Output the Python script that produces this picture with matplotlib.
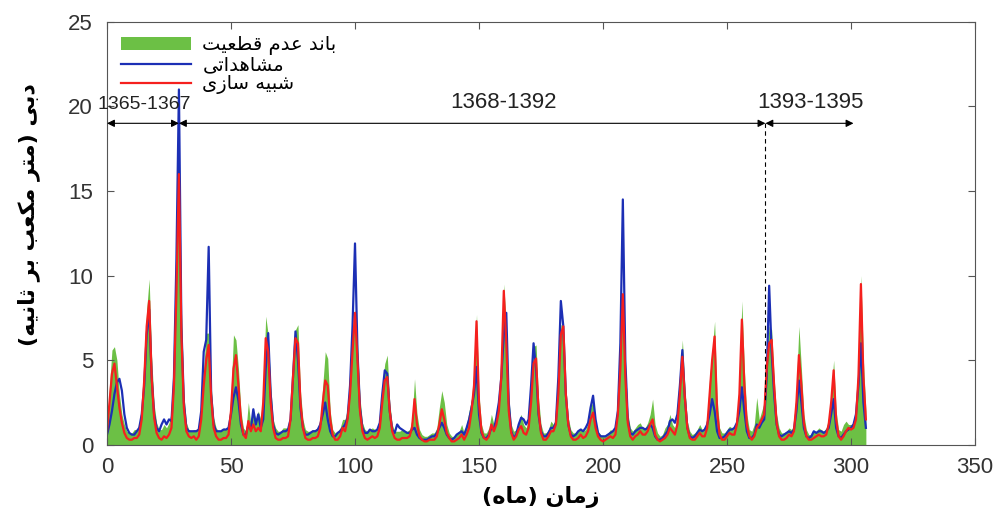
import numpy as np
import matplotlib
matplotlib.use("Agg")
import matplotlib.pyplot as plt

plt.rcParams['font.family'] = ['Liberation Sans', 'DejaVu Sans']

# دبی ماهانه، یک سطر برای هر سال (۱۲ ماه)
observed = [
    0.6, 1.2, 2.0, 3.0, 3.7, 3.9, 3.2, 1.8, 1.0, 0.7, 0.6, 0.6,
    0.8, 1.0, 1.8, 3.5, 6.5, 8.0, 4.0, 1.8, 1.0, 0.8, 1.2, 1.5,
    1.2, 1.5, 1.4, 4.0, 11.0, 21.0, 7.0, 2.5, 1.0, 0.8, 0.8, 0.8,
    0.8, 0.9, 2.0, 5.5, 6.2, 11.7, 3.0, 1.2, 0.8, 0.8, 0.8, 0.9,
    0.9, 1.0, 1.8, 2.8, 3.4, 2.6, 1.2, 0.6, 0.6, 1.2, 0.9, 2.1,
    1.2, 1.8, 1.0, 1.5, 4.5, 6.6, 3.0, 1.2, 0.7, 0.6, 0.7, 0.8,
    0.8, 0.9, 1.5, 4.0, 6.7, 5.0, 2.2, 1.0, 0.6, 0.6, 0.7, 0.8,
    0.8, 0.9, 1.2, 1.8, 2.5, 1.5, 0.8, 0.5, 0.5, 0.7, 0.8, 1.0,
    1.2, 1.6, 3.5, 7.0, 11.9, 5.5, 2.2, 1.0, 0.7, 0.7, 0.9, 0.8,
    0.8, 0.9, 1.3, 3.0, 4.4, 4.2, 2.0, 0.9, 0.7, 1.2, 1.0, 0.9,
    0.8, 0.7, 0.7, 0.9, 1.0, 0.6, 0.4, 0.3, 0.3, 0.3, 0.4, 0.5,
    0.5, 0.7, 1.0, 1.3, 1.0, 0.6, 0.4, 0.3, 0.4, 0.6, 0.7, 0.8,
    0.6, 1.0, 1.5, 2.2, 3.0, 4.6, 1.8, 0.7, 0.4, 0.4, 0.6, 1.0,
    0.9, 1.6, 2.5, 4.0, 6.5, 7.8, 2.5, 0.8, 0.4, 0.6, 1.2, 1.6,
    1.5, 1.2, 1.5, 3.5, 6.0, 4.5, 1.8, 0.8, 0.5, 0.5, 0.7, 1.0,
    1.0, 1.3, 4.0, 8.5, 7.0, 3.0, 1.2, 0.6, 0.5, 0.6, 0.8, 0.9,
    0.8, 1.0, 1.3, 2.2, 2.9, 1.5, 0.7, 0.5, 0.5, 0.5, 0.6, 0.7,
    0.8, 1.0, 2.0, 6.0, 14.5, 5.0, 1.5, 0.7, 0.6, 0.8, 0.9, 1.0,
    1.0, 0.9, 1.0, 1.2, 1.0, 0.5, 0.3, 0.3, 0.4, 0.6, 0.8, 1.4,
    1.5, 1.3, 1.8, 3.5, 5.6, 2.8, 1.0, 0.5, 0.4, 0.5, 0.7, 0.9,
    0.8, 0.9, 1.2, 1.8, 2.7, 2.0, 0.8, 0.4, 0.4, 0.5, 0.7, 0.9,
    0.9, 1.0, 1.3, 2.0, 3.4, 2.0, 0.8, 0.4, 0.4, 0.6, 1.2, 1.0,
    1.3, 1.5, 4.0, 9.4, 5.5, 3.0, 1.2, 0.6, 0.5, 0.6, 0.7, 0.8,
    0.7, 0.9, 2.0, 3.8, 2.5, 1.0, 0.5, 0.4, 0.5, 0.8, 0.7, 0.8,
    0.8, 0.7, 0.8, 1.0, 1.8, 2.7, 1.0, 0.5, 0.4, 0.6, 0.8, 0.9,
    1.0, 1.2, 1.8, 3.5, 6.0, 2.5, 1.0,
]

simulated = [
    0.8, 2.5, 4.2, 4.8, 3.5, 2.2, 1.3, 0.7, 0.4, 0.3, 0.3, 0.4,
    0.4, 0.6, 1.5, 3.8, 7.0, 8.5, 4.0, 1.6, 0.7, 0.4, 0.3, 0.5,
    0.4, 0.6, 1.0, 3.5, 9.0, 16.0, 6.5, 2.2, 0.8, 0.5, 0.4, 0.5,
    0.3, 0.5, 1.5, 3.5, 5.0, 5.9, 2.8, 1.0, 0.5, 0.3, 0.3, 0.4,
    0.4, 0.6, 2.0, 4.5, 5.3, 3.5, 1.5, 0.6, 0.4, 1.4, 0.8, 1.2,
    0.8, 1.0, 0.8, 2.5, 6.3, 5.5, 2.5, 1.0, 0.4, 0.3, 0.3, 0.4,
    0.4, 0.5, 1.5, 4.0, 6.3, 6.0, 2.5, 1.0, 0.4, 0.3, 0.3, 0.4,
    0.4, 0.5, 1.0, 2.5, 3.8, 3.5, 1.5, 0.6, 0.3, 0.3, 0.5, 1.0,
    0.8, 1.5, 3.0, 5.5, 7.8, 5.0, 2.0, 0.8, 0.4, 0.3, 0.4, 0.5,
    0.4, 0.5, 1.0, 2.5, 3.8, 4.0, 2.0, 0.8, 0.4, 0.3, 0.3, 0.4,
    0.4, 0.4, 0.5, 1.0, 2.7, 1.2, 0.5, 0.3, 0.2, 0.2, 0.3, 0.3,
    0.3, 0.5, 1.2, 2.1, 1.5, 0.7, 0.4, 0.2, 0.2, 0.3, 0.4, 0.6,
    0.3, 0.6, 1.0, 2.0, 3.5, 7.3, 2.5, 0.8, 0.4, 0.3, 0.5, 1.2,
    0.8, 1.2, 2.0, 4.0, 9.1, 6.0, 2.0, 0.7, 0.3, 0.5, 0.9, 1.1,
    0.7, 0.6, 1.0, 2.5, 4.8, 5.1, 2.0, 0.7, 0.3, 0.3, 0.5, 0.8,
    0.8, 1.2, 3.0, 6.5, 7.0, 3.0, 1.2, 0.5, 0.3, 0.3, 0.4, 0.6,
    0.4, 0.5, 0.8, 1.5, 1.9, 1.0, 0.5, 0.3, 0.2, 0.3, 0.4, 0.5,
    0.4, 0.6, 1.8, 4.5, 8.9, 4.0, 1.3, 0.5, 0.3, 0.5, 0.6, 0.8,
    0.6, 0.6, 0.8, 1.2, 1.5, 0.6, 0.3, 0.2, 0.3, 0.4, 0.6, 1.0,
    0.8, 0.6, 1.2, 3.0, 5.2, 2.8, 1.0, 0.4, 0.3, 0.3, 0.5, 0.7,
    0.5, 0.5, 1.0, 3.0, 5.0, 6.4, 2.0, 0.6, 0.3, 0.3, 0.5, 0.7,
    0.6, 0.6, 1.2, 3.0, 7.4, 3.5, 1.2, 0.5, 0.3, 0.5, 1.0, 1.2,
    1.5, 1.8, 4.5, 6.0, 6.2, 3.5, 1.3, 0.5, 0.3, 0.3, 0.4, 0.6,
    0.5, 0.8, 2.5, 5.3, 3.5, 1.3, 0.5, 0.3, 0.3, 0.4, 0.5, 0.6,
    0.5, 0.5, 0.6, 1.2, 2.5, 4.4, 1.5, 0.5, 0.3, 0.5, 0.8, 1.0,
    0.9, 1.0, 1.5, 4.0, 9.5, 4.0, 1.5,
]

band_upper = [
    1.0, 3.5, 5.6, 5.8, 5.0, 3.0, 1.8, 1.2, 0.8, 0.7, 0.7, 0.9,
    0.9, 1.2, 2.4, 4.8, 8.0, 9.8, 5.2, 2.4, 1.3, 0.9, 0.9, 1.2,
    1.0, 1.3, 2.0, 5.0, 12.0, 17.0, 8.0, 3.0, 1.3, 0.9, 0.8, 0.9,
    0.9, 1.0, 2.5, 4.5, 6.6, 6.6, 3.5, 1.6, 1.0, 0.8, 0.8, 1.0,
    0.9, 1.2, 3.0, 6.5, 6.2, 4.5, 2.0, 1.0, 0.8, 2.5, 1.2, 2.0,
    1.5, 2.0, 1.5, 3.5, 7.6, 6.5, 3.5, 1.5, 1.0, 0.8, 0.8, 1.0,
    1.0, 1.0, 2.0, 4.5, 6.8, 7.1, 3.2, 1.5, 0.9, 0.8, 0.8, 0.9,
    0.9, 1.0, 1.5, 3.5, 5.5, 5.1, 2.0, 0.9, 0.7, 0.8, 1.0, 1.5,
    1.5, 2.2, 4.0, 6.5, 8.0, 6.0, 2.8, 1.3, 0.9, 0.8, 0.9, 1.0,
    0.9, 0.9, 1.5, 3.5, 4.8, 5.3, 2.5, 1.2, 0.8, 0.8, 0.8, 0.9,
    0.8, 0.8, 0.9, 1.5, 3.9, 1.8, 0.9, 0.6, 0.5, 0.5, 0.6, 0.7,
    0.7, 1.0, 2.2, 3.2, 2.5, 1.2, 0.7, 0.5, 0.5, 0.7, 0.8, 1.2,
    0.7, 1.2, 2.0, 2.7, 4.5, 7.7, 3.0, 1.2, 0.7, 0.7, 1.0, 1.8,
    1.2, 1.6, 2.8, 5.0, 9.5, 7.0, 2.8, 1.2, 0.8, 0.9, 1.4, 1.8,
    1.2, 1.0, 1.5, 3.5, 5.8, 5.9, 2.8, 1.2, 0.7, 0.7, 0.9, 1.4,
    1.2, 1.6, 3.5, 7.1, 7.0, 3.5, 1.6, 0.9, 0.7, 0.7, 0.8, 1.0,
    0.8, 0.9, 1.3, 2.2, 2.6, 1.4, 0.8, 0.6, 0.5, 0.6, 0.7, 0.9,
    0.8, 1.0, 2.3, 5.5, 9.0, 4.8, 1.9, 1.0, 0.8, 1.0, 1.2, 1.3,
    1.0, 1.0, 1.3, 1.8, 2.7, 1.2, 0.7, 0.5, 0.6, 1.0, 1.2, 1.8,
    1.2, 1.0, 1.8, 3.8, 6.2, 3.5, 1.4, 0.8, 0.6, 0.7, 0.9, 1.2,
    0.9, 0.9, 1.6, 4.0, 5.5, 7.3, 2.8, 1.0, 0.7, 0.7, 0.9, 1.1,
    1.0, 1.0, 1.6, 3.8, 8.5, 4.5, 1.8, 0.9, 0.8, 1.2, 2.8, 1.5,
    2.0, 2.5, 5.5, 7.0, 6.8, 4.0, 1.8, 1.0, 0.7, 0.7, 0.8, 1.0,
    0.9, 1.2, 3.5, 7.0, 4.5, 1.8, 0.9, 0.6, 0.6, 0.8, 0.8, 1.0,
    0.9, 0.8, 1.0, 1.6, 3.0, 5.0, 2.0, 0.9, 0.8, 1.2, 1.4, 1.2,
    1.2, 1.3, 2.0, 5.0, 10.0, 5.0, 2.0,
]

# دوره ها: (شروع، پایان، محل برچسب، برچسب)
periods = [(0, 29, 15, '1365-1367'), (29, 265.5, 160, '1368-1392'),
           (265.5, 301, 283.5, '1393-1395')]
period_split = 265.5

labels = ['باند عدم قطعیت', 'مشاهداتی', 'شبیه سازی']
xlabel = 'زمان (ماه)'
ylabel = 'دبی (متر مکعب بر ثانیه)'

# matplotlib حروف فارسی را به هم نمی چسباند، پس شکل های متصل را دستی می سازیم
FORMS = {
    'ا': ('\ufe8d', '\ufe8e', None, None),
    'ب': ('\ufe8f', '\ufe90', '\ufe91', '\ufe92'),
    'ت': ('\ufe95', '\ufe96', '\ufe97', '\ufe98'),
    'ث': ('\ufe99', '\ufe9a', '\ufe9b', '\ufe9c'),
    'د': ('\ufea9', '\ufeaa', None, None),
    'ر': ('\ufead', '\ufeae', None, None),
    'ز': ('\ufeaf', '\ufeb0', None, None),
    'س': ('\ufeb1', '\ufeb2', '\ufeb3', '\ufeb4'),
    'ش': ('\ufeb5', '\ufeb6', '\ufeb7', '\ufeb8'),
    'ط': ('\ufec1', '\ufec2', '\ufec3', '\ufec4'),
    'ع': ('\ufec9', '\ufeca', '\ufecb', '\ufecc'),
    'ق': ('\ufed5', '\ufed6', '\ufed7', '\ufed8'),
    'ک': ('\ufb8e', '\ufb8f', '\ufb90', '\ufb91'),
    'م': ('\ufee1', '\ufee2', '\ufee3', '\ufee4'),
    'ن': ('\ufee5', '\ufee6', '\ufee7', '\ufee8'),
    'ه': ('\ufee9', '\ufeea', '\ufeeb', '\ufeec'),
    'ی': ('\ufbfc', '\ufbfd', '\ufbfe', '\ufbff'),
}


def fa(s):
    out = []
    for i, ch in enumerate(s):
        if ch not in FORMS:
            out.append(ch)
            continue
        prev = s[i - 1] if i > 0 else ''
        nxt = s[i + 1] if i + 1 < len(s) else ''
        jp = prev in FORMS and FORMS[prev][2] is not None
        jn = FORMS[ch][2] is not None and nxt in FORMS
        iso, fin, ini, med = FORMS[ch]
        out.append(med if jp and jn else fin if jp else ini if jn else iso)
    return ''.join(reversed(out)).translate(str.maketrans('()', ')('))


FA = ['DejaVu Sans']

months = np.arange(len(observed))

fig = plt.figure(figsize=(10, 5.19), dpi=100)
ax = fig.add_axes([0.107, 0.143, 0.868, 0.815])

ax.fill_between(months, 0, band_upper, color='#6cc045', lw=0, label=fa(labels[0]))
ax.plot(months, observed, color='#1c2fb5', lw=1.6, label=fa(labels[1]))
ax.plot(months, simulated, color='#f5201e', lw=1.6, label=fa(labels[2]))

# فلش های دوره ها
for x0, x1, xt, txt in periods:
    ax.annotate('', xy=(x1, 19), xytext=(x0, 19),
                arrowprops=dict(arrowstyle='<|-|>', color='k', lw=0.8,
                                shrinkA=0, shrinkB=0, mutation_scale=11))
    fs = 14 if txt == '1365-1367' else 16
    ax.text(xt, 19.6, txt, ha='center', va='bottom', fontsize=fs, color='#222222')
ax.plot([period_split, period_split], [19, 2.5], 'k--', lw=0.8, dashes=(4, 3))

ax.set_xlim(0, 350)
ax.set_ylim(0, 25)
ax.set_xticks(np.arange(0, 351, 50))
ax.set_yticks(np.arange(0, 26, 5))
ax.tick_params(direction='in', top=True, right=True, labelsize=16, labelcolor='#333333',
               length=5, width=0.8, color='#555555')
ax.tick_params(axis='x', pad=9)
ax.tick_params(axis='y', pad=10)
for sp in ax.spines.values():
    sp.set_color('#555555')
    sp.set_linewidth(0.8)

ax.set_xlabel(fa(xlabel), family=FA, fontsize=16, fontweight='bold')
ax.set_ylabel(fa(ylabel), family=FA, fontsize=16, fontweight='bold')
ax.xaxis.set_label_coords(0.5, -0.098)
ax.yaxis.set_label_coords(-0.077, 0.544)

leg = ax.legend(loc='upper left', frameon=False, handlelength=3.6, handleheight=0.7,
                prop={'family': FA, 'size': 14}, labelspacing=0.0,
                borderaxespad=0.3, handletextpad=0.6)

fig.savefig('out.png', dpi=100)
